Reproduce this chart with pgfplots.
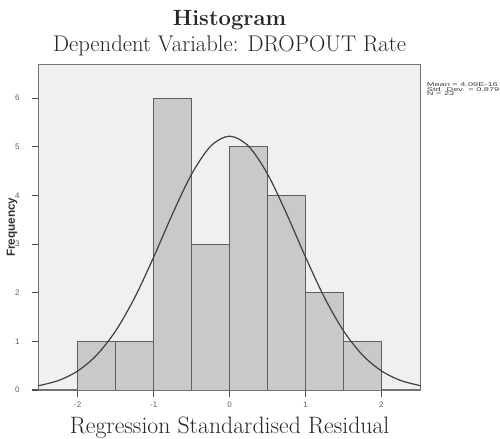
\documentclass[border=0pt]{standalone}
\usepackage{pgfplots}
\pgfplotsset{compat=1.18}
\usepackage{fontspec}
\newfontfamily\spss{Liberation Sans}
\definecolor{plotbg}{RGB}{240,240,240}
\definecolor{barfill}{RGB}{201,201,201}
\definecolor{baredge}{RGB}{95,95,95}
\definecolor{ticktext}{RGB}{95,95,95}

\begin{document}
\begin{tikzpicture}
\begin{axis}[
    name=ax,
    scale only axis,
    width=287pt,
    height=244pt,
    xmin=-2.52, xmax=2.52,
    ymin=0, ymax=6.69,
    xtick={-2,-1,0,1,2},
    ytick={0,1,2,3,4,5,6},
    xtick pos=bottom,
    ytick pos=left,
    tick align=outside,
    major tick length=5pt,
    every tick/.style={draw=black!70, line width=0.9pt},
    axis line style={draw=black!55, line width=0.8pt},
    axis background/.style={fill=plotbg},
    ticklabel style={font=\spss\fontsize{6}{7}\selectfont, text=ticktext},
    /pgf/number format/assume math mode=true,
    xticklabel style={yshift=-0.5pt},
    yticklabel style={xshift=-5.5pt},
    clip=true,
]
% histogram of the residuals (bin width 0.5)
\addplot[ybar interval, fill=barfill, draw=baredge, line width=0.7pt] coordinates {
    (-2.0,1) (-1.5,1) (-1.0,6) (-0.5,3) (0.0,5) (0.5,4) (1.0,2) (1.5,1) (2.0,1)
};
% fitted normal curve
\addplot[smooth, draw=black!75, line width=0.9pt] coordinates {
    (-2.52,0.086) (-2.25,0.197) (-2.0,0.392) (-1.75,0.719) (-1.5,1.217)
    (-1.25,1.899) (-1.0,2.733) (-0.75,3.627) (-0.5,4.440) (-0.25,5.013)
    (0.0,5.220) (0.25,5.013) (0.5,4.440) (0.75,3.627) (1.0,2.733)
    (1.25,1.899) (1.5,1.217) (1.75,0.719) (2.0,0.392) (2.25,0.197) (2.52,0.086)
};
\end{axis}

% axis title on the left
\node[rotate=90, anchor=center, font=\spss\bfseries\fontsize{8.8}{10}\selectfont, text=black!80]
    at ([xshift=-19.7pt]ax.west) {Frequency};

% titles
\node[anchor=base, font=\bfseries\fontsize{16.5}{19}\selectfont, text=black!85]
    at ([yshift=29pt]ax.north) {Histogram};
\node[anchor=base, font=\fontsize{17}{20}\selectfont, text=black!85]
    at ([yshift=9.5pt]ax.north) {Dependent Variable: DROPOUT Rate};
\node[anchor=base, font=\fontsize{17.8}{20}\selectfont, text=black!85]
    at ([yshift=-32.6pt]ax.south) {Regression Standardised Residual};

% statistics box text
\begin{scope}[every node/.style={anchor=base west, inner sep=0pt,
    font=\spss\fontsize{6.9}{8}\selectfont, text=black!75}]
\node at ([shift={(4.3pt,-16.5pt)}]ax.north east) {\scalebox{1}[0.6]{Mean = 4.09E-16}};
\node at ([shift={(4.3pt,-20.0pt)}]ax.north east) {\scalebox{1}[0.6]{Std. Dev. = 0.879}};
\node at ([shift={(4.3pt,-23.5pt)}]ax.north east) {\scalebox{1}[0.6]{N = 23}};
\end{scope}

\pgfresetboundingbox
\path[use as bounding box] ([shift={(-28.7pt,-36.75pt)}]ax.south west)
    rectangle ([shift={(346.3pt,292.5pt)}]ax.south west);
\end{tikzpicture}
\end{document}
